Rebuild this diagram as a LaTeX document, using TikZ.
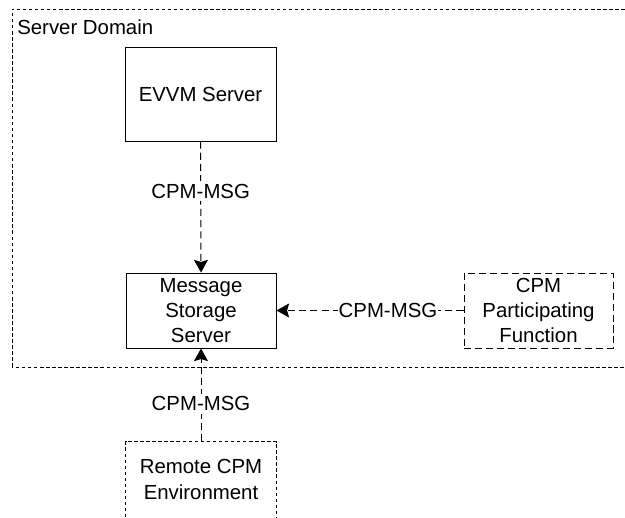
\documentclass[tikz,border=0pt]{standalone}
\usepackage{fontspec}
\setmainfont{Liberation Sans}
\usetikzlibrary{arrows.meta}
\tikzset{
  box/.style={draw=black, line width=0.7pt, align=center, inner sep=2pt},
  shortdash/.style={dash pattern=on 2.5pt off 1.8pt},
  longdash/.style={dash pattern=on 5pt off 2.8pt},
  msg/.style={dash pattern=on 5pt off 3pt, line width=0.7pt, -{Stealth[length=9pt,width=10pt,inset=1.5pt]}},
  msglabel/.style={fill=white, inner sep=0.5pt}
}
\begin{document}
\begin{tikzpicture}[font=\fontsize{14.5}{18}\selectfont]
\useasboundingbox (0,0) rectangle (15.625,12.925);
% right side runs past the page edge
\draw[shortdash, line width=0.7pt] (0.3,3.75) rectangle (16,12.7);
\node[anchor=base west, inner sep=0pt] (domain) at (0.425,12.05) {Server Domain};
\node[box, minimum width=3.775cm, minimum height=2.35cm] (evvm) at (5.0125,10.575) {EVVM Server};
\node[box, minimum width=3.75cm, minimum height=1.875cm] (mss) at (5.025,5.1625) {Message\\Storage\\Server};
\node[box, longdash, minimum width=3.725cm, minimum height=1.875cm] (cpf) at (13.4625,5.1625) {CPM\\Participating\\Function};
\node[box, draw=none, minimum width=3.75cm, minimum height=1.875cm] (remote) at (5.025,0.9375) {Remote CPM\\Environment};
% open at the bottom edge
\draw[shortdash, line width=0.7pt] (remote.south west)--(remote.north west)--(remote.north east)--(remote.south east);
\draw[msg] (evvm.south)--(mss.north) node[msglabel, pos=0.38, inner sep=2pt]{CPM-MSG};
\draw[msg] (cpf.west)--(mss.east) node[msglabel, pos=0.404]{CPM-MSG};
\draw[msg] (remote.north)--(mss.south) node[msglabel, pos=0.404, inner sep=2pt]{CPM-MSG};
\end{tikzpicture}
\end{document}
